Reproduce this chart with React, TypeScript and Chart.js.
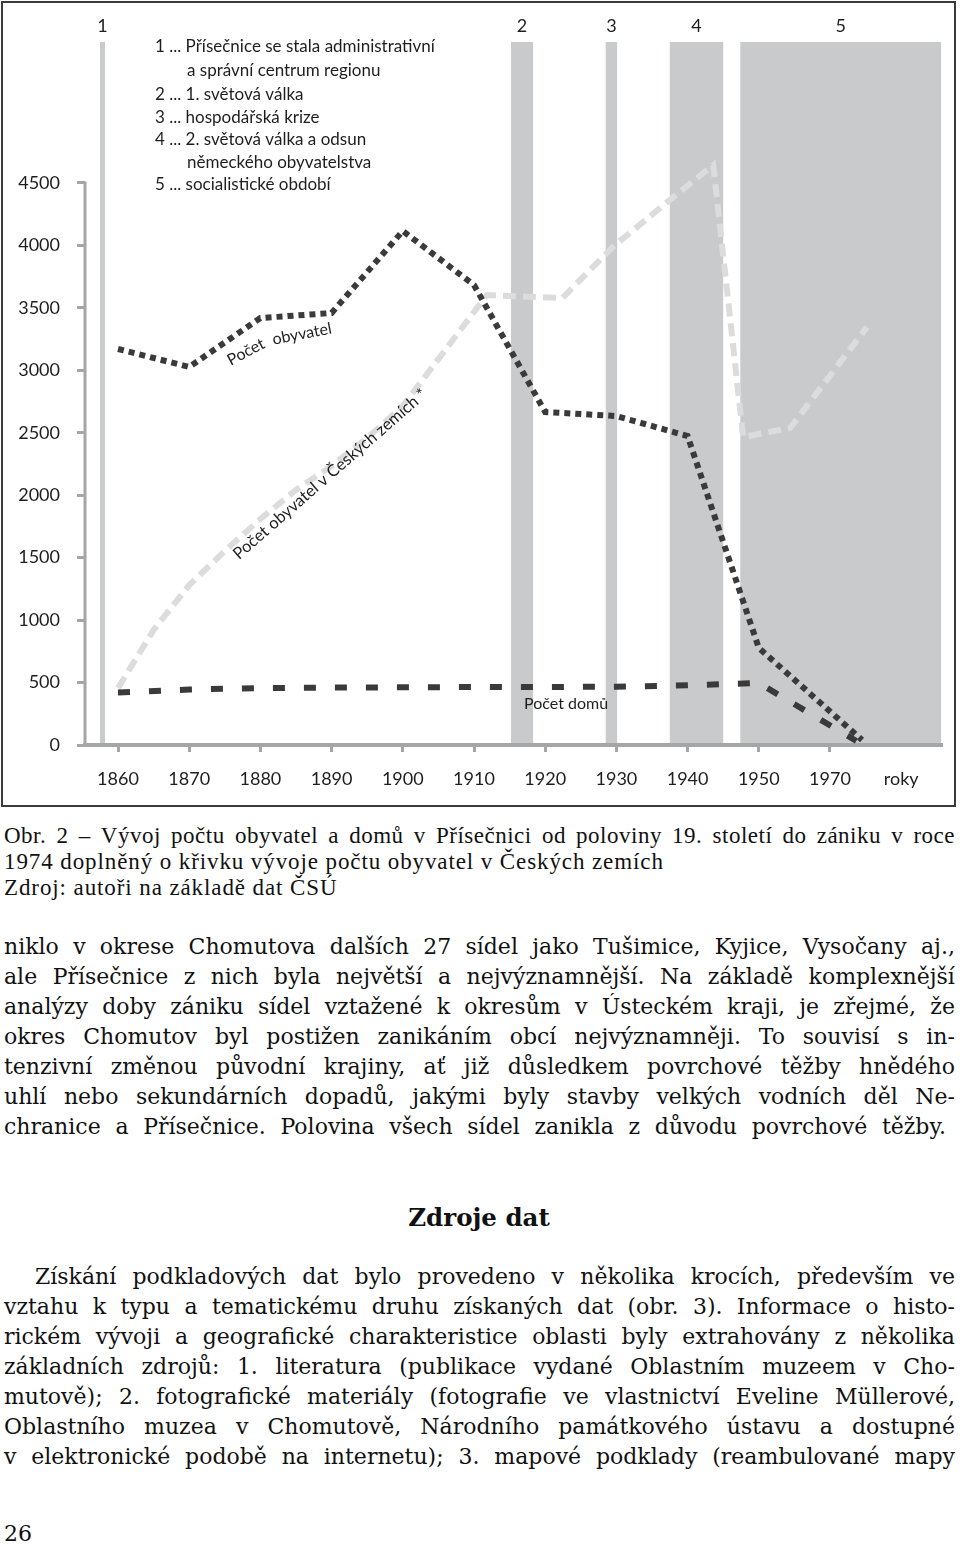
import React, { useEffect, useRef } from 'react';
import { Chart, registerables } from 'chart.js';
Chart.register(...registerables);

// ---- data (x in category-index units; 0 = 1860, 1 = 1870, ...) ----
const xLabels = ['1860', '1870', '1880', '1890', '1900', '1910', '1920', '1930', '1940', '1950', '1970', 'roky'];
const yTicks = [0, 500, 1000, 1500, 2000, 2500, 3000, 3500, 4000, 4500];

const popPos = [0, 1, 2, 3, 4, 5, 6, 7, 8, 9, 10.45];
const popVals = [3171, 3027, 3419, 3459, 4116, 3683, 2666, 2634, 2474, 777, 40];

const czPos = [0, 0.5, 1, 1.5, 2, 2.5, 3, 3.5, 4, 5.18, 6.24, 6.95, 7.75, 8.36, 8.78, 9.44, 10.52];
const czVals = [456, 921, 1281, 1553, 1810, 2042, 2234, 2458, 2714, 3603, 3579, 3988, 4364, 4644, 2466, 2538, 3347];

const housePos = [0, 1, 2, 3, 4, 5, 6, 7, 8, 9, 10.37];
const houseVals = [420, 444, 456, 460, 462, 464, 464, 467, 478, 496, 32];

const eventLabels = ['1', '2', '3', '4', '5'];
const eventStart = [-0.253, 5.52, 6.85, 7.75, 8.74];
const eventEnd = [-0.183, 5.83, 7.01, 8.5, 11.56];

const legendLines: [string, number, number][] = [
  ['1 ... Přísečnice se stala administrativní', 155, 47],
  ['a správní centrum regionu', 187, 71],
  ['2 ... 1. světová válka', 155, 95],
  ['3 ... hospodářská krize', 155, 118],
  ['4 ... 2. světová válka a odsun', 155, 140],
  ['německého obyvatelstva', 187, 163],
  ['5 ... socialistické období', 155, 185],
];

const captionLines = [
  'Obr. 2 – Vývoj počtu obyvatel a domů v Přísečnici od poloviny 19. století do zániku v roce',
  '1974 doplněný o křivku vývoje počtu obyvatel v Českých zemích',
  'Zdroj: autoři na základě dat ČSÚ',
];
const para1 = [
  'niklo v okrese Chomutova dalších 27 sídel jako Tušimice, Kyjice, Vysočany aj.,',
  'ale Přísečnice z nich byla největší a nejvýznamnější. Na základě komplexnější',
  'analýzy doby zániku sídel vztažené k okresům v Ústeckém kraji, je zřejmé, že',
  'okres Chomutov byl postižen zanikáním obcí nejvýznamněji. To souvisí s in-',
  'tenzivní změnou původní krajiny, ať již důsledkem povrchové těžby hnědého',
  'uhlí nebo sekundárních dopadů, jakými byly stavby velkých vodních děl Ne-',
  'chranice a Přísečnice. Polovina všech sídel zanikla z důvodu povrchové těžby.',
];
const heading = 'Zdroje dat';
const para2 = [
  'Získání podkladových dat bylo provedeno v několika krocích, především ve',
  'vztahu k typu a tematickému druhu získaných dat (obr. 3). Informace o histo-',
  'rickém vývoji a geografické charakteristice oblasti byly extrahovány z několika',
  'základních zdrojů: 1. literatura (publikace vydané Oblastním muzeem v Cho-',
  'mutově); 2. fotografické materiály (fotografie ve vlastnictví Eveline Müllerové,',
  'Oblastního muzea v Chomutově, Národního památkového ústavu a dostupné',
  'v elektronické podobě na internetu); 3. mapové podklady (reambulované mapy',
];
const pageNumber = '26';

const FONT = 'Lato';
const AXIS = '#a6a6a6';
const DARK = '#3a3a3a';
const LIGHT = '#dcdcdc';
const BAND = '#c9cacc';
const TXT = '#1e1e1e';

const toXY = (pos: number[], vals: number[]) => pos.map((x, i) => ({ x, y: vals[i] }));

function TextLine(props: {
  text: string; cy: number; left?: number; right?: number; justify?: boolean;
  family: string; size: number; lh?: number; weight?: number; center?: boolean; ls?: number;
}) {
  const { text, cy, left = 4, right = 955, justify = true, family, size, lh = 30, weight = 400, center = false, ls = 0 } = props;
  const style: React.CSSProperties = {
    position: 'absolute', left, top: cy - lh / 2, width: right - left, height: lh,
    lineHeight: lh + 'px', fontFamily: family, fontSize: size, fontWeight: weight,
    color: '#111', whiteSpace: 'pre', textAlign: center ? 'center' : 'left', letterSpacing: ls,
  };
  if (!justify) return <div style={style}>{text}</div>;
  const words = text.split(' ');
  return (
    <div style={{ ...style, display: 'flex', justifyContent: 'space-between' }}>
      {words.map((w, i) => <span key={i}>{w}</span>)}
    </div>
  );
}

export default function App() {
  const ref = useRef<HTMLCanvasElement>(null);
  useEffect(() => {
    const canvas = ref.current;
    if (!canvas) return;
    const annot = {
      id: 'annot',
      beforeDraw(chart: any) {
        const { ctx, scales, chartArea } = chart;
        const xs = scales.x, ys = scales.y;
        const bottom = ys.getPixelForValue(0);
        ctx.save();
        ctx.font = `18px ${FONT}`;
        ctx.textAlign = 'center';
        ctx.textBaseline = 'middle';
        for (let i = 0; i < eventLabels.length; i++) {
          const x0 = xs.getPixelForValue(eventStart[i]);
          const x1 = xs.getPixelForValue(eventEnd[i]);
          ctx.fillStyle = BAND;
          ctx.fillRect(x0, chartArea.top, x1 - x0, bottom - chartArea.top);
          ctx.fillStyle = TXT;
          ctx.fillText(eventLabels[i], (x0 + x1) / 2, 26);
        }
        ctx.restore();
      },
      beforeDatasetsDraw(chart: any) {
        const { ctx, scales, chartArea } = chart;
        const ys = scales.y;
        ctx.save();
        ctx.strokeStyle = AXIS;
        ctx.lineWidth = 3;
        ctx.beginPath();
        ctx.moveTo(chartArea.left, ys.getPixelForValue(0));
        ctx.lineTo(chartArea.left, ys.getPixelForValue(yTicks[yTicks.length - 1]) - 1.5);
        ctx.stroke();
        ctx.restore();
      },
      afterDatasetsDraw(chart: any) {
        const { ctx } = chart;
        ctx.save();
        ctx.fillStyle = TXT;
        ctx.textBaseline = 'middle';
        ctx.textAlign = 'left';
        ctx.font = `17px ${FONT}`;
        for (const [t, x, y] of legendLines) ctx.fillText(t, x, y);
        ctx.font = `16px ${FONT}`;
        ctx.fillText('Počet domů', 524, 704);
        const rot = (t: string, cx: number, cy: number, deg: number, size: number) => {
          ctx.save();
          ctx.translate(cx, cy);
          ctx.rotate((deg * Math.PI) / 180);
          ctx.font = `${size}px ${FONT}`;
          ctx.textAlign = 'center';
          ctx.fillText(t, 0, 0);
          ctx.restore();
        };
        rot('Počet', 246, 352, -28, 16);
        rot('obyvatel', 302, 334, -11, 16);
        rot('Počet obyvatel v Českých zemích *', 330, 474, -41, 16.5);
        ctx.restore();
      },
    };

    const chart = new Chart(canvas, {
      type: 'line',
      data: {
        datasets: [
          {
            label: 'Počet obyvatel',
            data: toXY(popPos, popVals),
            borderColor: DARK, borderWidth: 6, borderDash: [6, 5], borderCapStyle: 'butt',
            pointRadius: 0, fill: false, tension: 0,
          },
          {
            label: 'Počet domů',
            data: toXY(housePos, houseVals),
            borderColor: DARK, borderWidth: 6, borderDash: [12, 19], borderCapStyle: 'butt',
            pointRadius: 0, fill: false, tension: 0,
          },
          {
            label: 'Počet obyvatel v Českých zemích',
            data: toXY(czPos, czVals),
            borderColor: LIGHT, borderWidth: 6, borderDash: [13, 7], borderCapStyle: 'butt',
            pointRadius: 0, fill: false, tension: 0,
          },
        ],
      } as any,
      options: {
        responsive: false,
        maintainAspectRatio: false,
        animation: false,
        devicePixelRatio: 1,
        layout: { padding: { left: 0, top: 42, right: 19, bottom: 0 } },
        plugins: { legend: { display: false }, tooltip: { enabled: false } },
        scales: {
          x: {
            type: 'linear',
            min: -0.4635,
            max: 11.559,
            afterFit: (s: any) => { s.height = 65; },
            afterBuildTicks: (s: any) => { s.ticks = xLabels.map((_, i) => ({ value: i })); },
            border: { display: true, color: AXIS, width: 4 },
            grid: {
              drawOnChartArea: false, drawTicks: true, tickLength: 7, lineWidth: 3,
              color: (c: any) => (c.tick && c.tick.value === xLabels.length - 1 ? 'rgba(0,0,0,0)' : AXIS),
            },
            ticks: {
              autoSkip: false, maxRotation: 0,
              padding: 16, color: TXT, font: { family: FONT, size: 18 },
              callback: (v: any) => (xLabels[Math.round(v)] ?? ''),
            },
          },
          y: {
            type: 'linear',
            min: 0,
            max: 5629,
            afterFit: (s: any) => { s.width = 85; },
            afterBuildTicks: (s: any) => { s.ticks = yTicks.map((v) => ({ value: v })); },
            border: { display: false },
            grid: {
              drawOnChartArea: false, drawTicks: true, tickLength: 8, lineWidth: 3, color: AXIS,
            },
            ticks: {
              autoSkip: false, padding: 17,
              color: TXT, font: { family: FONT, size: 18 },
              callback: (v: any) => String(v),
            },
          },
        },
      } as any,
      plugins: [annot],
    });
    return () => chart.destroy();
  }, []);

  const bodyFont = 'DejaVu Serif';
  return (
    <div style={{ position: 'absolute', left: 0, top: 0, width: 960, height: 1550, background: '#fff' }}>
      <div style={{ position: 'absolute', left: 1, top: 1, width: 955, height: 806, border: '2px solid #3a3a3a', boxSizing: 'border-box' }} />
      <canvas ref={ref} width={960} height={810} style={{ position: 'absolute', left: 0, top: 0, width: 960, height: 810 }} />

      <TextLine text={captionLines[0]} cy={836} family="Liberation Serif" size={23} lh={26} ls={0.5} />
      <TextLine text={captionLines[1]} cy={862} family="Liberation Serif" size={23} lh={26} justify={false} ls={0.9} />
      <TextLine text={captionLines[2]} cy={888} family="Liberation Serif" size={23} lh={26} justify={false} ls={0.9} />

      {para1.map((t, i) => (
        <TextLine key={'p1' + i} text={t} cy={947 + i * 30} right={i === para1.length - 1 ? 946 : 955} family={bodyFont} size={22} />
      ))}

      <TextLine text={heading} cy={1218} left={0} right={958} family={bodyFont} size={24.5} weight={700} justify={false} center />

      {para2.map((t, i) => (
        <TextLine key={'p2' + i} text={t} cy={1277 + i * 30} left={i === 0 ? 35 : 4} family={bodyFont} size={22} />
      ))}

      <TextLine text={pageNumber} cy={1534} family={bodyFont} size={22} justify={false} />
    </div>
  );
}
